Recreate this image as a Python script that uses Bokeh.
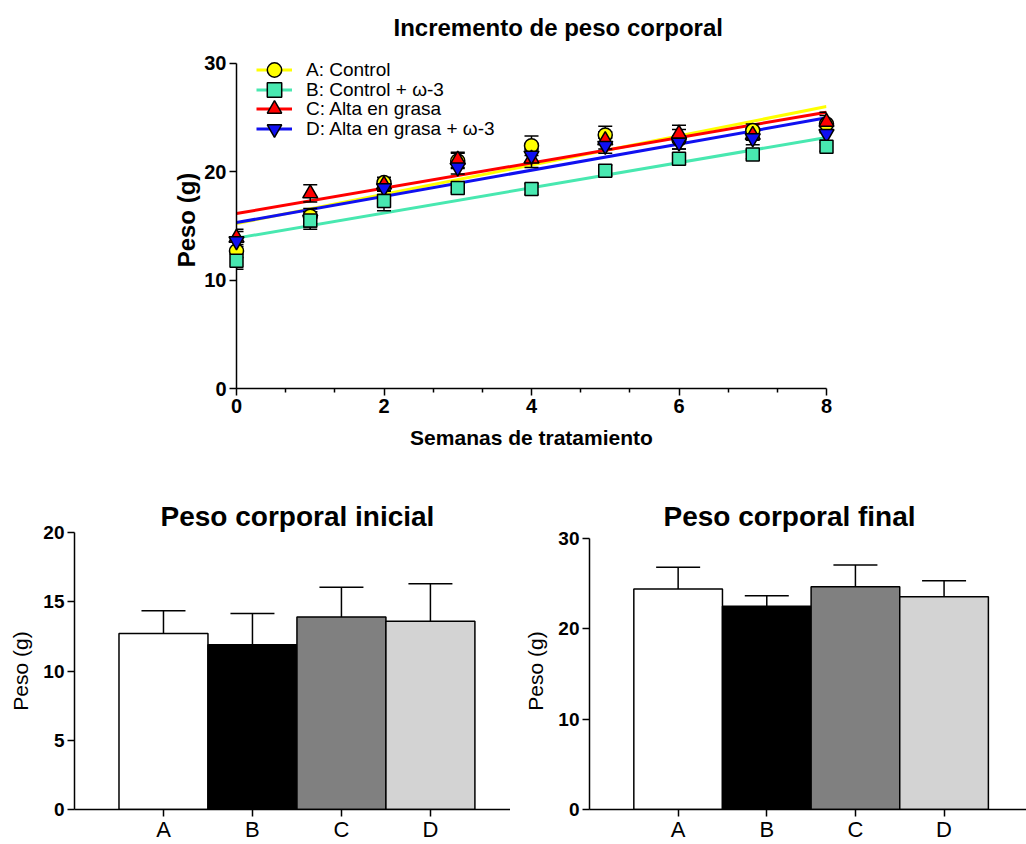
import numpy as np
from bokeh.plotting import figure
from bokeh.models import (ColumnDataSource, Whisker, TeeHead, Legend, LegendItem,
                          FixedTicker, Range1d, Title)
from bokeh.layouts import column, row
from bokeh.embed import file_html
from bokeh.resources import INLINE

# ---------------- data ----------------
weeks = [0, 1, 2, 3, 4, 5, 6, 7, 8]
series_labels = ["A: Control", "B: Control + ω-3", "C: Alta en grasa", "D: Alta en grasa + ω-3"]
peso_A = [12.7, 15.9, 19.0, 21.0, 22.4, 23.4, 23.0, 23.8, 24.4]
peso_B = [11.8, 15.5, 17.3, 18.5, 18.4, 20.1, 21.2, 21.6, 22.3]
peso_C = [13.9, 18.0, 18.8, 21.1, 21.2, 22.9, 23.5, 23.4, 24.6]
peso_D = [13.6, 15.6, 18.5, 20.4, 21.5, 22.4, 22.7, 23.1, 23.5]
sem_A = [0.6, 0.7, 0.5, 0.7, 0.9, 0.8, 0.9, 0.6, 0.8]
sem_B = [0.8, 0.8, 0.9, 0.4, 0.5, 0.5, 0.5, 0.4, 0.4]
sem_C = [0.8, 0.8, 0.5, 0.7, 0.8, 0.8, 0.8, 0.5, 0.9]
sem_D = [0.9, 0.7, 0.6, 0.6, 0.6, 0.7, 0.6, 0.6, 0.6]

groups = ["A", "B", "C", "D"]
inicial_media = [12.7, 11.9, 13.9, 13.6]
inicial_de = [1.65, 2.25, 2.15, 2.7]
final_media = [24.4, 22.5, 24.65, 23.55]
final_de = [2.4, 1.15, 2.4, 1.75]

FONT = "Liberation Sans"

# ---------------- top chart ----------------
# frame starts a bit above the "30" tick so the legend is not clipped
top = figure(width=1026, height=470, x_range=Range1d(0, 8), y_range=Range1d(0, 31.1),
             output_backend="svg", toolbar_location=None,
             min_border_left=236, min_border_right=200, min_border_top=51, min_border_bottom=82)
top.grid.visible = False
top.outline_line_color = None

top.title = Title(text="Incremento de peso corporal", align="left", offset=157,
                  text_font=FONT, text_font_size="24px", text_font_style="bold",
                  text_color="black", standoff=22)

series = [
    (peso_A, sem_A, "#FFFF00", "circle", 14),
    (peso_B, sem_B, "#48E8B0", "square", 13),
    (peso_C, sem_C, "#FF0000", "triangle", 15),
    (peso_D, sem_D, "#1010F0", "inverted_triangle", 15),
]

line_rs = []
for vals, sem, col, mk, sz in series:
    slope, inter = np.polyfit(weeks, vals, 1)
    xs = [weeks[0], weeks[-1]]
    ys = [inter + slope * xv for xv in xs]
    line_rs.append(top.line(xs, ys, line_color=col, line_width=3))

for vals, sem, col, mk, sz in series:
    src = ColumnDataSource(dict(x=weeks, lo=[v - s for v, s in zip(vals, sem)],
                                hi=[v + s for v, s in zip(vals, sem)]))
    top.add_layout(Whisker(source=src, base="x", lower="lo", upper="hi", line_width=1.5,
                           level="annotation",
                           upper_head=TeeHead(size=14, line_width=1.5),
                           lower_head=TeeHead(size=14, line_width=1.5)))

scat_rs = {}
for idx in [0, 2, 3, 1]:
    vals, sem, col, mk, sz = series[idx]
    scat_rs[idx] = top.scatter(weeks, vals, marker=mk, size=sz, fill_color=col,
                               line_color="black", line_width=1.5, level="overlay")

legend_bottoms = [300, 280, 261, 241]
for i in range(4):
    lg = Legend(items=[LegendItem(label=series_labels[i], renderers=[line_rs[i], scat_rs[i]])],
                location=(20, legend_bottoms[i]), padding=0, margin=0, spacing=0,
                glyph_width=36, glyph_height=37, label_height=37, label_standoff=14,
                label_text_font=FONT, label_text_font_size="19px", label_text_color="black",
                background_fill_alpha=0, border_line_color=None)
    top.add_layout(lg, "center")

top.yaxis.ticker = FixedTicker(ticks=[0, 10, 20, 30], minor_ticks=[])
top.yaxis.bounds = (0, 30)
top.xaxis.ticker = FixedTicker(ticks=[0, 2, 4, 6, 8],
                               minor_ticks=[k * 2 / 3 for k in range(13) if k % 3 != 0])
top.yaxis.axis_label = "Peso (g)"
top.xaxis.axis_label = "Semanas de tratamiento"
for ax in (top.xaxis, top.yaxis):
    ax.axis_line_width = 1.5
    ax.axis_line_color = "black"
    ax.major_tick_line_width = 1.5
    ax.major_tick_line_color = "black"
    ax.minor_tick_line_width = 1.5
    ax.minor_tick_line_color = "black"
    ax.major_tick_out = 7
    ax.major_tick_in = 0
    ax.minor_tick_out = 4
    ax.minor_tick_in = 0
    ax.major_label_text_font = FONT
    ax.major_label_text_font_size = "20px"
    ax.major_label_text_font_style = "bold"
    ax.major_label_text_color = "black"
    ax.axis_label_text_font = FONT
    ax.axis_label_text_font_style = "bold"
    ax.axis_label_text_color = "black"
    ax.major_label_standoff = 3
top.yaxis.axis_label_text_font_size = "24px"
top.xaxis.axis_label_text_font_size = "21px"
top.yaxis.axis_label_standoff = 1
top.xaxis.axis_label_standoff = 10


# ---------------- bar charts ----------------
bar_colors = ["#FFFFFF", "#000000", "#808080", "#D3D3D3"]
positions = [i + 1 for i in range(len(groups))]


def bar_chart(title, medias, des, ymax, ytop, yticks, width, left, xend, title_offset, standoff):
    p = figure(width=width, height=374, x_range=Range1d(0, xend), y_range=Range1d(0, ytop),
               output_backend="svg", toolbar_location=None,
               min_border_left=left, min_border_right=0, min_border_top=62,
               min_border_bottom=33)
    p.grid.visible = False
    p.outline_line_color = None
    p.title = Title(text=title, align="left", offset=title_offset, text_font=FONT,
                    text_font_size="28px", text_font_style="bold", text_color="black",
                    standoff=standoff)
    src = ColumnDataSource(dict(x=positions, top=medias, hi=[m + d for m, d in zip(medias, des)],
                                color=bar_colors))
    p.add_layout(Whisker(source=src, base="x", lower="top", upper="hi", line_width=1.5,
                         upper_head=TeeHead(size=44, line_width=1.5), lower_head=None))
    p.vbar(x="x", top="top", width=1.0, bottom=0, fill_color="color", line_color="black",
           line_width=1.5, source=src)
    p.xaxis.ticker = FixedTicker(ticks=positions, minor_ticks=[])
    p.xaxis.major_label_overrides = {pos: g for pos, g in zip(positions, groups)}
    p.yaxis.ticker = FixedTicker(ticks=yticks, minor_ticks=[])
    p.yaxis.bounds = (0, ymax)
    p.yaxis.axis_label = "Peso (g)"
    for ax in (p.xaxis, p.yaxis):
        ax.axis_line_width = 1.5
        ax.axis_line_color = "black"
        ax.major_tick_line_width = 1.5
        ax.major_tick_line_color = "black"
        ax.major_tick_out = 7
        ax.major_tick_in = 0
        ax.major_label_text_font = FONT
        ax.major_label_text_color = "black"
        ax.major_label_standoff = 3
    p.yaxis.major_label_text_font_size = "19px"
    p.yaxis.major_label_text_font_style = "bold"
    p.xaxis.major_label_text_font_size = "22px"
    p.xaxis.major_label_standoff = 0
    p.yaxis.axis_label_text_font = FONT
    p.yaxis.axis_label_text_font_size = "21px"
    p.yaxis.axis_label_text_font_style = "normal"
    p.yaxis.axis_label_text_color = "black"
    p.yaxis.axis_label_standoff = 8
    return p


bl = bar_chart("Peso corporal inicial", inicial_media, inicial_de, 20, 20, [0, 5, 10, 15, 20],
               510, 74, 4.9, 86, 1)
br = bar_chart("Peso corporal final", final_media, final_de, 30, 30.65, [0, 10, 20, 30],
               516, 79, 4.93, 74, 2)

layout = column(top, row(bl, br))
open("out.html", "w").write(file_html(layout, INLINE))
